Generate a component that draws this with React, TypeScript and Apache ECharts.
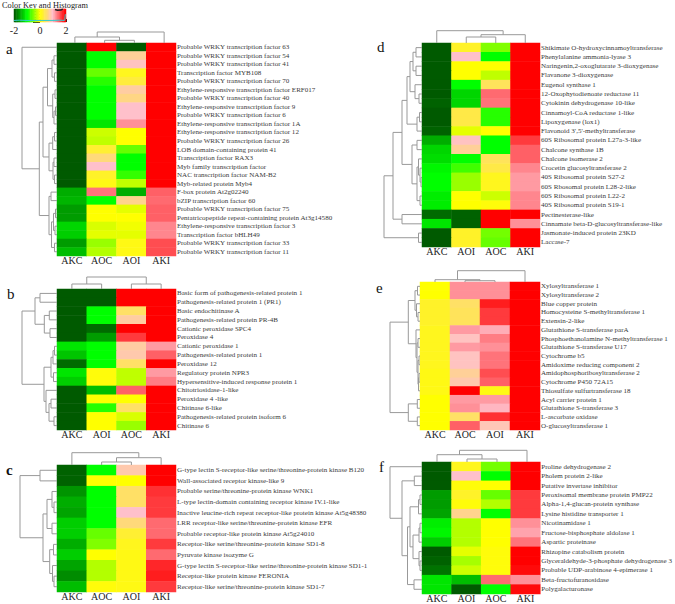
import React, { useEffect, useRef } from "react";
import * as echarts from "echarts";

type Tree = number | [number, Tree, Tree];

const rowsA = ["Probable WRKY transcription factor 63","Probable WRKY transcription factor 54","Probable WRKY transcription factor 41","Transcription factor MYB108","Probable WRKY transcription factor 70","Ethylene-responsive transcription factor ERF017","Probable WRKY transcription factor 40","Ethylene-responsive transcription factor 9","Probable WRKY transcription factor 6","Ethylene-responsive transcription factor 1A","Ethylene-responsive transcription factor 12","Probable WRKY transcription factor 26","LOB domain-containing protein 41","Transcription factor RAX3","Myb family transcription factor","NAC transcription factor NAM-B2","Myb-related protein Myb4","F-box protein At2g02240","bZIP transcription factor 60","Probable WRKY transcription factor 75","Pentatricopeptide repeat-containing protein At3g14580","Ethylene-responsive transcription factor 3","Transcription factor bHLH49","Probable WRKY transcription factor 33","Probable WRKY transcription factor 11"];
const colsA = ["AKC","AOC","AOI","AKI"];
const valuesA = [[-2,2,-2,2],[-2,-1,0.75,2],[-2,-1,0.95,2],[-2,-0.6,0.15,2],[-2,-0.85,0.3,2],[-2,-1,0.8,2],[-2,-1,0.65,2],[-2,-1,1,2],[-2,-1,1,2],[-2,-1.15,1.25,2],[-2,-0.2,0,2],[-2,-0.25,0,2],[-2,0.25,-0.6,2],[-2,0.6,-1,2],[-2,1,-1,2],[-2,0.2,-0.8,2],[-2,0.1,-0.25,2],[-1.5,1.4,-1.5,1.5],[-1.45,-1,0.7,1.45],[-1.6,0,-0.1,1.5],[-1.6,0,0,1.5],[-1.25,-0.15,-0.05,1.3],[-1.3,-0.1,-0.1,1.3],[-1.6,-0.4,0.1,1.6],[-1.4,-0.3,0.1,1.6]];
const rowTreeA: Tree = [35,0,[17.7,[14,[9.5,[5,[3,1,2],[2.5,3,4]],[4.3,[2,5,6],[3,[1.5,7,8],9]]],[8,[4.3,[2.5,10,11],12],[4,[3,13,14],[2.5,15,16]]]],[8,[6,17,18],[5.5,[3.5,[1.5,19,20],[2,21,22]],[2.5,23,24]]]]];
const colTreeA: Tree = [11,[6,0,[2.7,1,2]],3];

const rowsB = ["Basic form of pathogenesis-related protein 1","Pathogenesis-related protein 1 (PR1)","Basic endochitinase A","Pathogenesis-related protein PR-4B","Cationic peroxidase SPC4","Peroxidase 4","Cationic peroxidase 1","Pathogenesis-related protein 1","Peroxidase 12","Regulatory protein NPR3","Hypersensitive-induced response protein 1","Chitotriosidase-1-like","Peroxidase 4 -like","Chitinase 6-like","Pathogenesis-related protein isoform 6","Chitinase 6"];
const colsB = ["AKC","AOI","AOC","AKI"];
const valuesB = [[-2,-2,2,2],[-2,-2,2,2],[-2,-1,0.5,2],[-2,-1,0.8,2],[-2,-1.9,2,2],[-2,-1.6,1.7,2],[-1.15,-1,0.8,1.2],[-1.35,-1,0.85,1.5],[-1.9,-1,0.5,2],[-1.15,0.05,-0.25,1.2],[-1.3,0.05,-0.25,1.35],[-2,-1.4,1.5,2],[-2,0,0,2],[-2,-0.85,0.5,2],[-2,0,-0.15,2],[-2,0,-0.4,2]];
const rowTreeB: Tree = [35,[22,[17,0,1],[12.7,[7.7,2,3],[7,4,5]]],[13,[6,[4,[2.5,6,7],8],[3.5,9,10]],[11,11,[8,[6,12,13],[3,14,15]]]]];
const colTreeB: Tree = [12,[5,0,1],[5,2,3]];

const rowsC = ["G-type lectin S-receptor-like serine/threonine-protein kinase B120","Wall-associated receptor kinase-like 9","Probable serine/threonine-protein kinase WNK1","L-type lectin-domain containing receptor kinase IV.1-like","Inactive leucine-rich repeat receptor-like protein kinase At5g48380","LRR receptor-like serine/threonine-protein kinase EFR","Probable receptor-like protein kinase At5g24010","Receptor-like serine/threonine-protein kinase SD1-8","Pyruvate kinase isozyme G","G-type lectin S-receptor-like serine/threonine-protein kinase SD1-1","Receptor-like protein kinase FERONIA","Receptor-like serine/threonine-protein kinase SD1-7"];
const colsC = ["AKC","AOC","AOI","AKI"];
const valuesC = [[-1.95,-1,0.85,2],[-1.95,0,0,2],[-1.65,-1,0.5,1.75],[-1.5,-1,0.5,1.7],[-1.55,-1,1,1.7],[-1.3,-1,0.6,1.45],[-1.3,-0.6,0.25,1.45],[-1.5,-0.5,0.15,1.7],[-1.3,0,0.1,1.45],[-1.55,-0.3,0.1,1.8],[-1.7,-0.3,0.1,1.85],[-1.4,0.05,0.1,1.7]];
const rowTreeC: Tree = [37,[17,0,1],[14,[10,[5,2,[3,3,4]],[5,5,6]],[7.3,[3.5,7,8],[4.5,9,[3,10,11]]]]];
const colTreeC: Tree = [12.3,0,[7.3,[3,1,2],3]];

const rowsD = ["Shikimate O-hydroxycinnamoyltransferase","Phenylalanine ammonia-lyase 3","Naringenin,2-oxoglutarate 3-dioxygenase","Flavanone 3-dioxygenase","Eugenol synthase 1","12-Oxophytodienoate reductase 11","Cytokinin dehydrogenase 10-like","Cinnamoyl-CoA reductase 1-like","Lipoxygenase (lox1)","Flavonoid 3',5'-methyltransferase","60S Ribosomal protein L27a-3-like","Chalcone synthase 1B","Chalcone isomerase 2","Crocetin glucosyltransferase 2","40S Ribosomal protein S27-2","60S Rbosomal protein L28-2-like","60S Ribosomal protein L22-2","40S Ribosomal protein S19-1","Pectinesterase-like","Cinnamate beta-D-glucosyltransferase-like","Jasmonate-induced protein 23KD","Laccase-7"];
const colsD = ["AKC","AOI","AOC","AKI"];
const valuesD = [[-2,0.2,-0.5,2],[-2,1,-1,2],[-2,0,0,2],[-2,0,-0.25,2],[-2,-1,0.45,2],[-2,-1.25,1.45,2],[-1.95,-1.25,1.4,2],[-2,0.35,-0.85,2],[-2,0.35,-0.85,2],[-1.95,-0.1,0,2],[-1.5,0.95,-1,1.7],[-1.25,0.75,-1,1.5],[-1.2,-1,0.45,1.5],[-1.05,-0.75,0.35,1.3],[-1,-0.4,0.15,1.2],[-1,-0.4,0.15,1.2],[-1.1,0,-0.2,1.3],[-1.1,0,0.05,1.3],[-1.9,-1.95,2,2],[-1.15,-1.95,2,1.25],[-2,0.2,-0.55,2],[-2,0.2,-0.6,2]];
const rowTreeD: Tree = [38,[29,[20,[15,[12,[9,[6,0,1],[6,2,3]],[7,4,[3,5,6]]],[5,[2.5,7,8],9]],[10,[5,10,11],[5,[3.5,12,[2,13,[1,14,15]]],[2,16,17]]]],[20,18,19]],[3.5,20,21]];
const colTreeD: Tree = [12.3,0,[8.3,[6,1,2],3]];

const rowsE = ["Xylosyltransferase 1","Xylosyltransferase 2","Blue copper protein","Homocysteine S-methyltransferase 1","Extensin-2-like","Glutathione S-transferase parA","Phosphoethanolamine N-methyltransferase 1","Glutathione S-transferase U17","Cytochrome b5","Amidoxime reducing component 2","Amidophosphoribosyltransferase 2","Cytochrome P450 72A15","Thiosulfate sulfurtransferase 18","Acyl carrier protein 1","Glutathione S-transferase 3","L-ascorbate oxidase","O-glucosyltransferase 1"];
const colsE = ["AKC","AOC","AOI","AKI"];
const valuesE = [[0,1.25,1.25,2],[0,1.25,1.25,2],[0.2,0.5,1.85,2],[0.2,0.45,1.7,2],[0.2,0.45,1.7,2],[0.15,1.2,1.1,2],[0.15,0.95,1.35,2],[0.15,1.2,1.25,2],[0.15,0.95,1.4,2],[0.15,0.95,1.4,2],[0.1,0.75,1.6,2],[0.1,0.85,1.5,2],[0.1,2,0.1,2],[0,1.2,1.2,2],[0,1.25,1.05,2],[0,0.5,1.75,2],[0,1.5,0.9,2]];
const rowTreeE: Tree = [30,[11.7,[5,[2.5,0,1],[3.5,2,[2,3,4]]],[4,5,[3,[2,6,7],[2,[1,8,9],[1.5,[1,10,11],12]]]]],[11.7,[2.7,13,14],[2.7,15,16]]];
const colTreeE: Tree = [11.3,[2.3,0,[1.3,1,2]],3];

const rowsF = ["Proline dehydrogenase 2","Pholem protein 2-like","Putative invertase inhibitor","Peroxisomal membrane protein PMP22","Alpha-1,4-glucan-protein synthase","Lysine histidine transporter 1","Nicotinamidase 1","Fructose-bisphosphate aldolase 1","Aspartic proteinase","Rhizopine catabolism protein","Glyceraldehyde-3-phosphate dehydrogenase 3","Probable UDP-arabinose 4-epimerase 1","Beta-fructofuranosidase","Polygalacturonase"];
const colsF = ["AKC","AOI","AOC","AKI"];
const valuesF = [[-2,0.15,-0.55,2],[-2,1,-1,2],[-2,0.05,0,2],[-1.6,0.2,-0.6,1.7],[-1.6,0.05,-0.3,1.7],[-1.55,0.7,-1,1.7],[-1.1,-0.3,0,1.25],[-1.05,-0.3,0,1.15],[-1.3,-0.3,0,1.4],[-2,-0.1,0.05,2],[-1.95,-0.35,0.05,2],[-1.85,-0.2,0.05,1.95],[-1.15,-1.4,1.45,1.25],[-1.15,-2,-1,1.95]];
const rowTreeF: Tree = [32,0,[20,[7.7,1,2],[14.5,[12,[3.5,[2,3,4],5],[9,[3,[2,6,7],8],[3,9,[2,10,11]]]],[8,12,13]]]];
const colTreeF: Tree = [11.7,[7.3,0,[3,1,2]],3];

const keyBins = [-2,-1.9,-1.8,-1.7,-1.6,-1.5,-1.4,-1.3,-1.2,-1.1,-1,-0.9,-0.8,-0.7,-0.6,-0.5,-0.4,-0.3,-0.2,-0.1,0,0.1,0.2,0.3,0.4,0.5,0.6,0.7,0.8,0.9,1,1.1,1.2,1.3,1.4,1.5,1.6,1.7,1.8,1.9,2];
const keyLabels = ["-2","0","2"];
const histCyan = [[-2,0.6],[-1.6,0.7],[-1,0.6],[0,0.6],[1,0.6],[1.5,0.7],[1.9,0.6],[1.95,3],[2,3]];
const histDark = [[1.15,4.8],[1.35,4.5],[1.6,4.6],[1.75,5]];

const colorStops = ["#005a00","#00ff00","#ffff00","#ffc0cb","#ff0000"];
const SERIF = '"Liberation Serif", "Times New Roman", serif';

const panels = [
  { letter: "a", rows: rowsA, cols: colsA, vals: valuesA, rt: rowTreeA, ct: colTreeA, l: 57, t: 43, w: 119, h: 213, off: 3, lx: 6, ly: 48 },
  { letter: "b", rows: rowsB, cols: colsB, vals: valuesB, rt: rowTreeB, ct: colTreeB, l: 57, t: 289, w: 119, h: 141, off: 0, lx: 7, ly: 293 },
  { letter: "c", rows: rowsC, cols: colsC, vals: valuesC, rt: rowTreeC, ct: colTreeC, l: 57, t: 465, w: 119, h: 127, off: 0, lx: 6, ly: 469 },
  { letter: "d", rows: rowsD, cols: colsD, vals: valuesD, rt: rowTreeD, ct: colTreeD, l: 422, t: 43, w: 118, h: 204, off: 0, lx: 377, ly: 46 },
  { letter: "e", rows: rowsE, cols: colsE, vals: valuesE, rt: rowTreeE, ct: colTreeE, l: 420, t: 282, w: 120, h: 148, off: 0, lx: 376, ly: 287 },
  { letter: "f", rows: rowsF, cols: colsF, vals: valuesF, rt: rowTreeF, ct: colTreeF, l: 422, t: 462, w: 120, h: 132, off: 0, lx: 379, ly: 466 },
];

function segments(tree: Tree) {
  const segs: number[][] = [];
  const walk = (n: Tree): [number, number] => {
    if (typeof n === "number") return [n + 0.5, 0];
    const [h, a, b] = n;
    const [pa, ha] = walk(a);
    const [pb, hb] = walk(b);
    segs.push([pa, ha, pa, h], [pb, hb, pb, h], [pa, h, pb, h]);
    return [(pa + pb) / 2, h];
  };
  walk(tree);
  return segs;
}

const lineItem = (stroke: string) => (_: any, api: any) => {
  const a = api.coord([api.value(0), api.value(1)]);
  const b = api.coord([api.value(2), api.value(3)]);
  return { type: "line", shape: { x1: a[0], y1: a[1], x2: b[0], y2: b[1] }, style: { stroke, lineWidth: 1 } };
};

function buildOption() {
  const grid: any[] = [], xAxis: any[] = [], yAxis: any[] = [], series: any[] = [], graphic: any[] = [];
  const heatIdx: number[] = [];
  const hiddenValue = (extra: any) => ({ type: "value", show: false, splitLine: { show: false }, ...extra });

  const addGrid = (g: any, x: any, y: any) => {
    grid.push({ ...g, containLabel: false });
    const i = grid.length - 1;
    xAxis.push({ gridIndex: i, ...x });
    yAxis.push({ gridIndex: i, ...y });
    return i;
  };

  panels.forEach((p) => {
    const g = addGrid(
      { left: p.l, top: p.t, width: p.w, height: p.h },
      { type: "category", data: p.cols, position: "bottom", axisLine: { show: false }, axisTick: { show: false },
        splitLine: { show: false }, axisLabel: { fontFamily: SERIF, fontSize: 10, color: "#222", margin: -1, interval: 0 } },
      { type: "category", data: p.rows, inverse: true, position: "right", axisLine: { show: false }, axisTick: { show: false },
        splitLine: { show: false }, axisLabel: { fontFamily: SERIF, fontSize: 7.05, color: "#3a3a3a", margin: 1, interval: 0 } }
    );
    heatIdx.push(series.length);
    series.push({
      type: "heatmap", xAxisIndex: g, yAxisIndex: g, silent: true,
      data: p.vals.flatMap((r, ri) => r.map((v, ci) => [ci, ri, v])),
    });

    const rootR = (p.rt as any)[0] as number;
    const gr = addGrid(
      { left: p.l - rootR, top: p.t, width: rootR, height: p.h },
      hiddenValue({ min: 0, max: rootR, inverse: true }),
      hiddenValue({ min: 0, max: p.rows.length, inverse: true })
    );
    series.push({
      type: "custom", xAxisIndex: gr, yAxisIndex: gr, silent: true, clip: false,
      encode: { x: [0, 2], y: [1, 3] },
      renderItem: lineItem("#999999"),
      data: segments(p.rt).map(([a, b, c, d]) => [b, a, d, c]),
    });

    const rootC = (p.ct as any)[0] as number;
    const gc = addGrid(
      { left: p.l + p.off, top: p.t - rootC, width: p.w, height: rootC },
      hiddenValue({ min: 0, max: p.cols.length }),
      hiddenValue({ min: 0, max: rootC })
    );
    series.push({
      type: "custom", xAxisIndex: gc, yAxisIndex: gc, silent: true, clip: false,
      encode: { x: [0, 2], y: [1, 3] },
      renderItem: lineItem("#999999"),
      data: segments(p.ct),
    });

    graphic.push({
      type: "text", left: p.lx, top: p.ly - 7,
      style: { text: p.letter, font: `${p.letter === "c" ? "bold " : ""}15px ${SERIF}`, fill: "#111" },
    });
  });

  // colour key
  const gk = addGrid(
    { left: 14, top: 9, width: 52, height: 13 },
    { type: "category", data: keyBins.map(String), position: "bottom",
      axisLine: { show: false }, axisTick: { show: false }, splitLine: { show: false }, axisLabel: { show: false } },
    { type: "category", data: ["key"], show: false, splitLine: { show: false } }
  );
  heatIdx.push(series.length);
  series.push({ type: "heatmap", xAxisIndex: gk, yAxisIndex: gk, silent: true, data: keyBins.map((v, i) => [i, 0, v]) });

  const gh = addGrid(
    { left: 14, top: 9, width: 52, height: 13 },
    { type: "value", min: -2, max: 2, interval: 1, position: "bottom", splitLine: { show: false },
      axisLine: { show: false },
      axisTick: { show: true, inside: true, length: 3, lineStyle: { color: "#222", width: 1 } },
      axisLabel: { show: true, margin: 3, fontFamily: SERIF, fontSize: 10, color: "#222", showMinLabel: true, showMaxLabel: true,
        formatter: (v: number) => (keyLabels.includes(String(v)) ? String(v) : "") } },
    { type: "value", min: 0, max: 5, interval: 1, position: "left", splitLine: { show: false }, axisLabel: { show: false },
      axisLine: { show: false }, axisTick: { show: true, length: 7, lineStyle: { color: "#222", width: 1 } } }
  );
  series.push({ type: "line", xAxisIndex: gh, yAxisIndex: gh, silent: true, symbol: "none", data: histCyan, lineStyle: { color: "#33cccc", width: 1 } });
  series.push({ type: "line", xAxisIndex: gh, yAxisIndex: gh, silent: true, symbol: "none", data: histDark, lineStyle: { color: "#222", width: 1.5 } });

  graphic.push({ type: "text", left: 2, top: 1, style: { text: "Color Key and Histogram", font: `8.3px ${SERIF}`, fill: "#222" } });

  return {
    animation: false,
    backgroundColor: "#fff",
    grid, xAxis, yAxis, series, graphic,
    visualMap: { show: false, min: -2, max: 2, dimension: 2, seriesIndex: heatIdx, inRange: { color: colorStops } },
  };
}

export default function App() {
  const ref = useRef<HTMLDivElement>(null);
  useEffect(() => {
    document.body.style.margin = "0";
    const chart = echarts.init(ref.current!, undefined, { renderer: "svg" });
    chart.setOption(buildOption() as any);
    return () => chart.dispose();
  }, []);
  return <div ref={ref} style={{ width: 675, height: 604 }} />;
}
